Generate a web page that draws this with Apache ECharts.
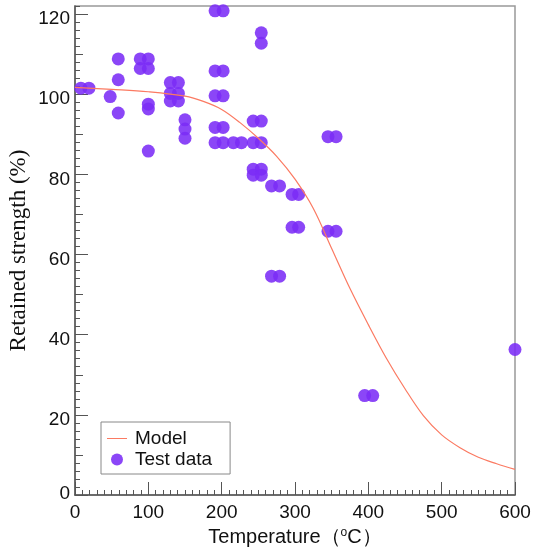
<!DOCTYPE html>
<html>
<head>
<meta charset="utf-8">
<script src="https://cdn.jsdelivr.net/npm/echarts@6/dist/echarts.min.js"></script>
<style>
  html, body { margin: 0; padding: 0; background: #ffffff; }
  #chart { width: 548px; height: 550px; }
</style>
</head>
<body>
<div id="chart"></div>
<script>
// Measured retained strength after exposure (temperature in °C, strength in %)
const testTemp = [
  8, 19, 48, 59, 59, 59, 89, 100, 89, 100, 100, 100, 100,
  130, 141, 130, 141, 130, 141, 150, 150, 150,
  191, 202, 191, 202, 191, 202, 191, 202, 191, 202,
  216, 227, 243, 254, 243, 254, 254, 254,
  243, 254, 243, 254, 268, 279, 296, 305, 296, 305,
  345, 356, 345, 356, 268, 279, 395, 406, 600
];
const testStrength = [
  101.5, 101.5, 99.4, 108.8, 103.6, 95.3, 108.8, 108.8, 106.4, 106.4, 97.5, 96.3, 85.8,
  102.9, 102.9, 100.2, 100.2, 98.3, 98.3, 93.6, 91.3, 89.0,
  120.8, 120.8, 105.8, 105.8, 99.6, 99.6, 91.7, 91.7, 87.9, 87.9,
  87.9, 87.9, 87.9, 87.9, 93.3, 93.3, 115.3, 112.7,
  81.3, 81.3, 79.8, 79.8, 77.1, 77.1, 75.0, 75.0, 66.8, 66.8,
  89.4, 89.4, 65.8, 65.8, 54.6, 54.6, 24.8, 24.8, 36.3
];

// Model prediction curve
const modelTemp = [0, 50, 100, 150, 175, 200, 225, 250, 275, 300, 325, 350, 375, 400, 425, 450, 475, 500, 525, 550, 575, 600];
const modelStrength = [101.7, 101.2, 100.6, 99.5, 98.2, 96.2, 92.9, 89.0, 84.5, 78.8, 71.5, 61.5, 51.5, 42.5, 34.0, 26.5, 19.8, 15.0, 11.8, 9.4, 7.8, 6.4];

// Axis ticks
const xTicks = [0, 100, 200, 300, 400, 500, 600];
const yTicks = [0, 20, 40, 60, 80, 100, 120];
const yHalfTicks = [10, 30, 50, 70, 90, 110];

const scatterData = testTemp.map((t, i) => [t, testStrength[i]]);
const modelData = modelTemp.map((t, i) => [t, modelStrength[i]]);

const sans = '"Liberation Sans", Arial, sans-serif';
const tickColor = '#555';
const modelColor = '#fb7a62';
const dataColor = '#7b2cf6';

const chart = echarts.init(document.getElementById('chart'), null, { renderer: 'canvas' });

const yBase = {
  type: 'value', min: 0, max: 122, position: 'left', offset: 0,
  splitLine: { show: false }
};

chart.setOption({
  animation: false,
  backgroundColor: '#ffffff',
  grid: {
    left: 75, right: 33, top: 6, bottom: 55,
    containLabel: false, outerBoundsMode: 'none',
    show: true, borderColor: '#999', borderWidth: 1.5
  },
  legend: {
    left: 101, top: 422, orient: 'vertical',
    borderColor: '#888', borderWidth: 1,
    padding: [7, 18, 5, 6],
    itemGap: 2, itemWidth: 20, itemHeight: 12,
    textStyle: { fontFamily: sans, fontSize: 19, color: '#111', padding: [0, 0, 0, 3] },
    data: [
      { name: 'Model', icon: 'path://M0,0H40V2H0Z', itemStyle: { color: modelColor } },
      { name: 'Test data', icon: 'circle' }
    ]
  },
  xAxis: [{
    type: 'value', min: 0, max: 600, interval: 100,
    axisLine: { show: true, lineStyle: { color: tickColor, width: 1.5 } },
    axisTick: { show: true, inside: true, length: 13, lineStyle: { color: tickColor } },
    minorTick: { show: true, splitNumber: 10, length: 5, lineStyle: { color: tickColor } },
    splitLine: { show: false },
    axisLabel: {
      customValues: xTicks, margin: 8,
      fontFamily: sans, fontSize: 19, color: '#111'
    },
    name: '{a|Temperature（}{s|o}{a|C）}',
    nameLocation: 'middle', nameGap: 31,
    nameTextStyle: {
      rich: {
        a: { fontFamily: sans, fontSize: 20, color: '#111' },
        s: { fontFamily: sans, fontSize: 12, color: '#111', verticalAlign: 'top', padding: [0, 0, 9, 0] }
      }
    }
  }],
  yAxis: [
    Object.assign({}, yBase, {
      axisLine: { show: true, lineStyle: { color: tickColor, width: 1.5 } },
      axisTick: { show: true, inside: true, length: 13, customValues: yTicks, lineStyle: { color: tickColor } },
      axisLabel: {
        customValues: yTicks, margin: 5,
        fontFamily: sans, fontSize: 19, color: '#111',
        // labels sit slightly below their ticks, except the zero at the corner
        formatter: v => (v === 0 ? '{z|0}' : '{n|' + v + '}'),
        rich: {
          n: { fontFamily: sans, fontSize: 19, color: '#111', padding: [10, 0, 0, 0] },
          z: { fontFamily: sans, fontSize: 19, color: '#111', padding: [0, 0, 2, 0] }
        }
      },
      name: 'Retained strength (%)',
      nameLocation: 'middle', nameGap: 45, nameMoveOverlap: false,
      nameTextStyle: { fontFamily: '"Liberation Serif", "Times New Roman", serif', fontSize: 23, color: '#111' }
    }),
    // medium ticks halfway between labels
    Object.assign({}, yBase, {
      axisLine: { show: false },
      axisTick: { show: true, inside: true, length: 8, customValues: yHalfTicks, lineStyle: { color: tickColor } },
      axisLabel: { show: false }
    }),
    // minor ticks every 2 %
    Object.assign({}, yBase, {
      interval: 2,
      axisLine: { show: false },
      axisTick: { show: true, inside: true, length: 5, lineStyle: { color: tickColor } },
      axisLabel: { show: false }
    })
  ],
  series: [
    {
      name: 'Model', type: 'line', data: modelData,
      xAxisIndex: 0, yAxisIndex: 0,
      smooth: 0.35, symbol: 'none', showSymbol: false,
      lineStyle: { color: modelColor, width: 1.2 },
      itemStyle: { color: modelColor },
      z: 3
    },
    {
      name: 'Test data', type: 'scatter', data: scatterData,
      xAxisIndex: 0, yAxisIndex: 0,
      symbol: 'circle', symbolSize: 13,
      itemStyle: { color: dataColor, opacity: 0.88 },
      z: 2
    }
  ]
});
</script>
</body>
</html>
